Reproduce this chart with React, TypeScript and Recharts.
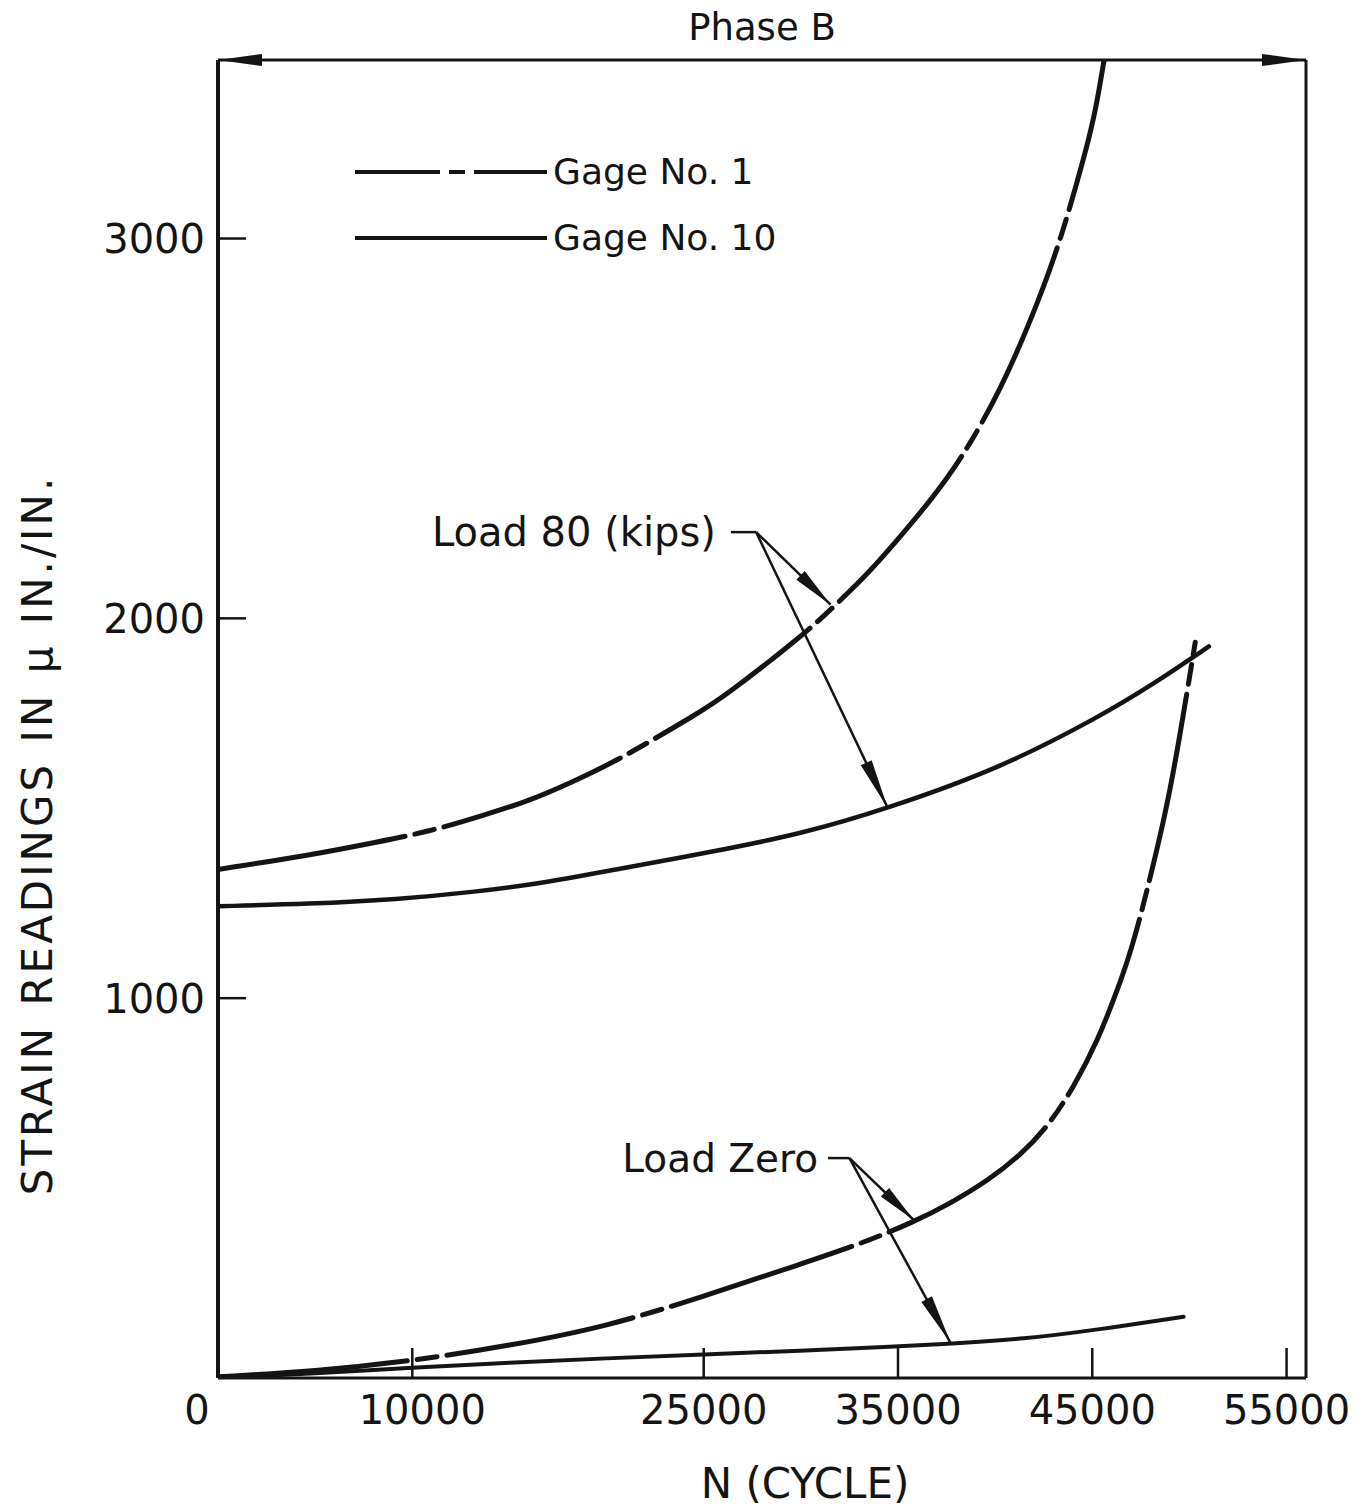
import React from 'react';
import { LineChart, Line, XAxis, YAxis, ReferenceLine, Legend } from 'recharts';

const FONT = '"DejaVu Sans", Verdana, sans-serif';
const INK = '#141414';
const CURVE_DASH = '190 10 20 10';

// N (cycles) and strain readings (micro in./in.)
const g1Load80N = [0, 4700, 8200, 10900, 13700, 16100, 18100, 20600, 24800, 26000, 30100, 31600, 33200, 34300, 36700, 38200, 40300, 42200, 43400, 44700, 45200, 45600];
const g1Load80 = [1339, 1376, 1411, 1439, 1482, 1521, 1566, 1626, 1753, 1792, 1955, 2026, 2105, 2166, 2311, 2415, 2600, 2830, 3000, 3235, 3345, 3468];

const g10Load80N = [0, 4700, 9200, 13300, 16700, 20200, 25400, 30000, 34500, 40300, 45400, 48000, 51000];
const g10Load80 = [1242, 1248, 1260, 1280, 1303, 1336, 1385, 1432, 1500, 1606, 1742, 1822, 1926];

const g1ZeroN = [0, 5000, 10000, 15000, 20000, 25000, 30000, 32900, 35800, 37700, 39670, 41300, 42700, 44050, 45290, 46320, 47000, 47760, 48790, 49410, 50300];
const g1Zero = [3, 18, 45, 85, 135, 215, 300, 350, 410, 460, 521, 587, 661, 766, 889, 1025, 1125, 1270, 1490, 1660, 1937];

const g10ZeroN = [0, 5000, 10000, 15000, 20000, 25000, 30000, 34600, 37300, 41600, 45100, 49700];
const g10Zero = [0, 12, 27, 40, 52, 62, 72, 82, 89, 103, 126, 161];

const xTicks = [0, 10000, 25000, 35000, 45000, 55000];
const yTicks = [1000, 2000, 3000];
const X_MAX = 56000;
const Y_MAX = 3470;

// annotation leaders (data coordinates)
const load80Leader = [{ x: 26400, y: 2227 }, { x: 27700, y: 2227 }];
const load80Tips = [{ x: 31530, y: 2036 }, { x: 34470, y: 1501 }];
const zeroLeader = [{ x: 31400, y: 579 }, { x: 32500, y: 579 }];
const zeroTips = [{ x: 35810, y: 416 }, { x: 37710, y: 92 }];

const legendItems = [
  { label: 'Gage No. 1', dash: '85 9 16 9' },
  { label: 'Gage No. 10', dash: undefined },
];

const pts = (ns: number[], vs: number[]) => ns.map((n, i) => ({ n, v: vs[i] }));

const series = [
  { key: 'g1-80', data: pts(g1Load80N, g1Load80), width: 5, dash: CURVE_DASH },
  { key: 'g10-80', data: pts(g10Load80N, g10Load80), width: 4.5, dash: undefined },
  { key: 'g1-0', data: pts(g1ZeroN, g1Zero), width: 5, dash: CURVE_DASH },
  { key: 'g10-0', data: pts(g10ZeroN, g10Zero), width: 4, dash: undefined },
];

const X_MARGIN = 17;
const Y_MARGIN = 13;
const X_TICK_LEN = 30;
const Y_TICK_LEN = 28;

function head(x1: number, y1: number, x2: number, y2: number, len: number, half: number) {
  const d = Math.hypot(x2 - x1, y2 - y1) || 1;
  const ux = (x2 - x1) / d;
  const uy = (y2 - y1) / d;
  const bx = x2 - ux * len;
  const by = y2 - uy * len;
  return `${x2},${y2} ${bx - uy * half},${by + ux * half} ${bx + uy * half},${by - ux * half}`;
}

const arrowShape = (len: number) => (p: any) => (
  <g>
    <line x1={p.x1} y1={p.y1} x2={p.x2} y2={p.y2} stroke={INK} strokeWidth={2.5} />
    <polygon points={head(p.x1, p.y1, p.x2, p.y2, len, 6)} fill={INK} />
  </g>
);

// top border with arrows at both ends
const spanShape = (p: any) => (
  <g>
    <line x1={p.x1} y1={p.y1} x2={p.x2} y2={p.y2} stroke={INK} strokeWidth={3} />
    <polygon points={head(p.x2, p.y2, p.x1, p.y1, 44, 6)} fill={INK} />
    <polygon points={head(p.x1, p.y1, p.x2, p.y2, 44, 6)} fill={INK} />
  </g>
);

// labels outside, tick marks pointing into the plot
const XTick = (p: any) => {
  const { x, y, payload } = p;
  const shift = payload.value === 0 ? -21 : payload.value === 10000 ? 10 : 0;
  const base = y - X_MARGIN;
  return (
    <g>
      {payload.value !== 0 && (
        <line x1={x} x2={x} y1={base} y2={base - X_TICK_LEN} stroke={INK} strokeWidth={2.5} />
      )}
      <text x={x + shift} y={y} dy="0.72em" textAnchor="middle" fontFamily={FONT} fontSize={40} fill={INK}>
        {payload.value}
      </text>
    </g>
  );
};

const YTick = (p: any) => {
  const { x, y, payload } = p;
  const base = x + Y_MARGIN;
  return (
    <g>
      <line x1={base} x2={base + Y_TICK_LEN} y1={y} y2={y} stroke={INK} strokeWidth={2.5} />
      <text x={x} y={y} dy="0.36em" textAnchor="end" fontFamily={FONT} fontSize={40} fill={INK}>
        {payload.value}
      </text>
    </g>
  );
};

const renderLegend = () => (
  <div style={{ fontFamily: FONT, fontSize: 36, color: INK }}>
    {legendItems.map((it) => (
      <div key={it.label} style={{ display: 'flex', alignItems: 'center', height: 66 }}>
        <svg width={192} height={10}>
          <line x1={0} y1={5} x2={192} y2={5} stroke={INK} strokeWidth={4} strokeDasharray={it.dash} />
        </svg>
        <span style={{ marginLeft: 6, lineHeight: 1 }}>{it.label}</span>
      </div>
    ))}
  </div>
);

const textStyle = { fontFamily: FONT, fill: INK };

export default function App() {
  return (
    <div style={{ position: 'absolute', left: 0, top: 0, background: '#fff' }}>
      <LineChart width={1367} height={1506} margin={{ top: 60, right: 61, bottom: 68, left: 98 }}>
        <XAxis
          dataKey="n"
          type="number"
          domain={[0, X_MAX]}
          ticks={xTicks}
          interval={0}
          allowDataOverflow
          height={60}
          tickSize={0}
          tickMargin={X_MARGIN}
          tickLine={false}
          axisLine={{ stroke: INK, strokeWidth: 3 }}
          tick={<XTick />}
          label={{
            content: () => (
              <text x={805} y={1483} textAnchor="middle" dominantBaseline="central" fontSize={42} {...textStyle}>
                N (CYCLE)
              </text>
            ),
          }}
        />
        <YAxis
          type="number"
          domain={[0, Y_MAX]}
          ticks={yTicks}
          interval={0}
          allowDataOverflow
          width={120}
          tickSize={0}
          tickMargin={Y_MARGIN}
          tickLine={false}
          axisLine={{ stroke: INK, strokeWidth: 4 }}
          tick={<YTick />}
          label={{
            content: () => (
              <text
                x={37}
                y={835}
                transform="rotate(-90 37 835)"
                textAnchor="middle"
                dominantBaseline="central"
                fontSize={42}
                letterSpacing={3}
                wordSpacing={3}
                {...textStyle}
              >
                STRAIN READINGS IN μ IN./IN.
              </text>
            ),
          }}
        />

        <ReferenceLine
          segment={[{ x: 0, y: Y_MAX }, { x: X_MAX, y: Y_MAX }]}
          shape={spanShape}
          label={{ value: 'Phase B', position: 'top', offset: 20, fontSize: 37, ...textStyle }}
        />
        <ReferenceLine x={X_MAX} stroke={INK} strokeWidth={3} />

        {series.map((s) => (
          <Line
            key={s.key}
            data={s.data}
            dataKey="v"
            type="basis"
            stroke={INK}
            strokeWidth={s.width}
            strokeDasharray={s.dash}
            strokeLinecap="round"
            dot={false}
            activeDot={false}
            isAnimationActive={false}
          />
        ))}

        <ReferenceLine
          segment={load80Leader}
          stroke={INK}
          strokeWidth={2.5}
          label={{ value: 'Load 80 (kips)', position: 'left', offset: 15, fontSize: 40, ...textStyle }}
        />
        {load80Tips.map((t, i) => (
          <ReferenceLine key={`l80-${i}`} segment={[load80Leader[1], t]} shape={arrowShape(i === 0 ? 42 : 50)} />
        ))}
        <ReferenceLine
          segment={zeroLeader}
          stroke={INK}
          strokeWidth={2.5}
          label={{ value: 'Load Zero', position: 'left', offset: 10, fontSize: 39, ...textStyle }}
        />
        {zeroTips.map((t, i) => (
          <ReferenceLine key={`l0-${i}`} segment={[zeroLeader[1], t]} shape={arrowShape(i === 0 ? 40 : 50)} />
        ))}

        <Legend
          layout="vertical"
          align="center"
          verticalAlign="middle"
          wrapperStyle={{ left: 355, top: 139, width: 520, height: 132 }}
          content={renderLegend}
        />
      </LineChart>
    </div>
  );
}
